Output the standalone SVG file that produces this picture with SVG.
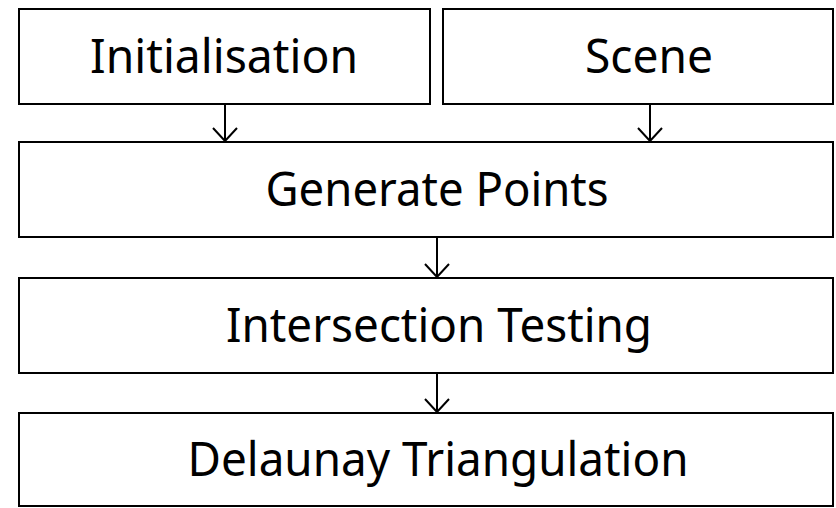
<svg xmlns="http://www.w3.org/2000/svg" width="836" height="508" viewBox="0 0 836 508">
<defs>
<style>
.box{fill:#fff;stroke:#000;stroke-width:2}
.lbl{font-family:"Noto Sans","Liberation Sans",sans-serif;font-size:48px;fill:#000;text-anchor:middle}
.con{stroke:#000;stroke-width:2;fill:none}
</style>
</defs>
<rect width="836" height="508" fill="#fff"/>
<g id="connectors">
<line class="con" x1="225" y1="104" x2="225" y2="141"/>
<path class="con" d="M213,128 L225,141 L237,128"/>
<line class="con" x1="650" y1="104" x2="650" y2="141"/>
<path class="con" d="M638,128 L650,141 L662,128"/>
<line class="con" x1="437" y1="237" x2="437" y2="277"/>
<path class="con" d="M425,264 L437,277 L449,264"/>
<line class="con" x1="437" y1="373" x2="437" y2="412"/>
<path class="con" d="M425,399 L437,412 L449,399"/>
</g>
<g id="initialisation">
<rect class="box" x="19" y="9" width="411" height="95"/>
<text class="lbl" x="224" y="73" textLength="268" lengthAdjust="spacingAndGlyphs">Initialisation</text>
</g>
<g id="scene">
<rect class="box" x="443" y="9" width="390" height="95"/>
<text class="lbl" x="649" y="73" textLength="128" lengthAdjust="spacingAndGlyphs">Scene</text>
</g>
<g id="generate-points">
<rect class="box" x="19" y="142" width="814" height="95"/>
<text class="lbl" x="437" y="206" textLength="343" lengthAdjust="spacingAndGlyphs">Generate Points</text>
</g>
<g id="intersection-testing">
<rect class="box" x="19" y="278" width="814" height="95"/>
<text class="lbl" x="439" y="342" textLength="426" lengthAdjust="spacingAndGlyphs">Intersection Testing</text>
</g>
<g id="delaunay-triangulation">
<rect class="box" x="19" y="413" width="814" height="93"/>
<text class="lbl" x="438" y="476" textLength="501" lengthAdjust="spacingAndGlyphs">Delaunay Triangulation</text>
</g>
</svg>
